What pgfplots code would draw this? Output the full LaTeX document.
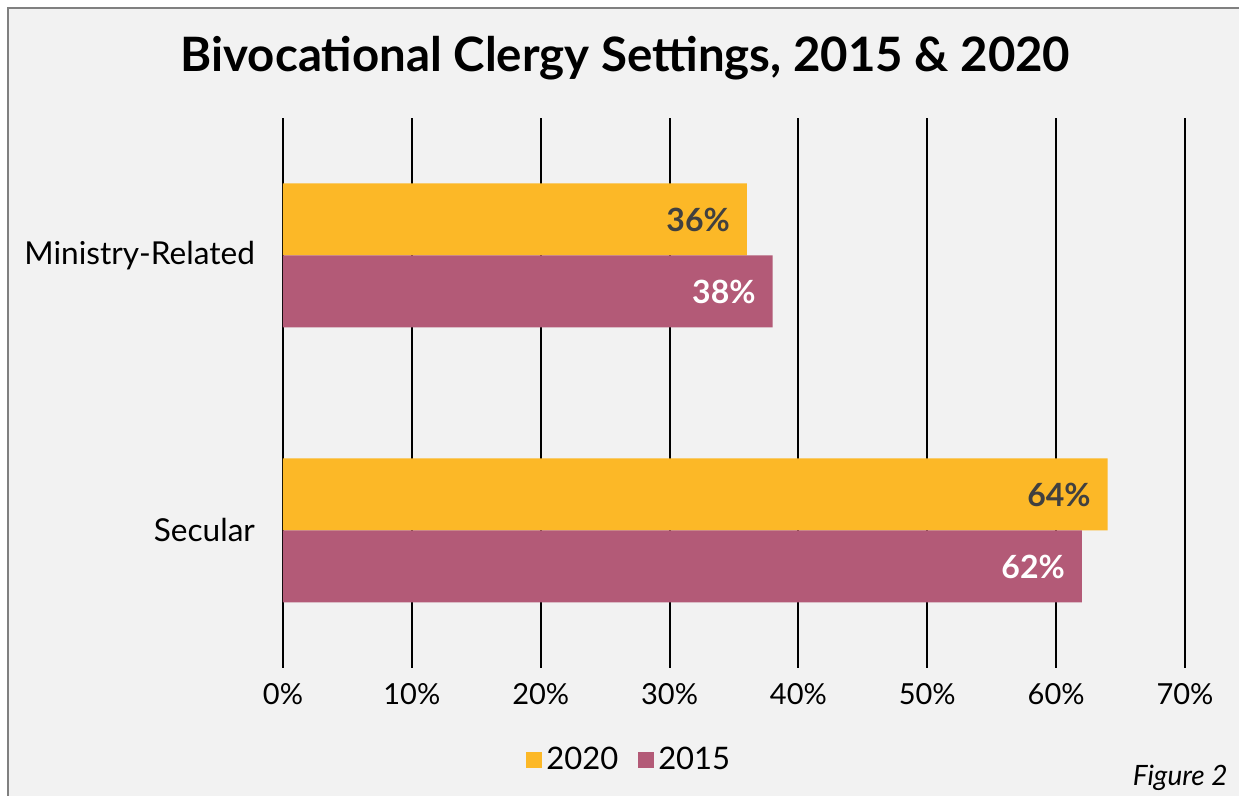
\documentclass[border=0pt]{standalone}
\usepackage{pgfplots}
\pgfplotsset{compat=1.18}
\usepackage{fontspec}
\setmainfont{Lato}
\definecolor{bggray}{HTML}{F2F2F2}
\definecolor{bordergray}{HTML}{808080}
\definecolor{cyellow}{HTML}{FCB827}
\definecolor{cmauve}{HTML}{B35A77}
\definecolor{darklabel}{HTML}{404040}
\begin{document}
\begin{tikzpicture}
\useasboundingbox (0,0) rectangle (619.5pt,398pt);
\fill[white] (0,0) rectangle (619.5pt,398pt);
\fill[bggray] (4pt,0) rectangle (619.5pt,394pt);
\draw[bordergray, line width=1pt] (4pt,0) -- (4pt,394pt) -- (619.5pt,394pt);
\node[anchor=base, font=\fontsize{23.7}{28}\selectfont\bfseries] at (312.75pt,362pt) {Bivocational Clergy Settings, 2015 \& 2020};
\begin{axis}[
  at={(141.5pt,64pt)}, anchor=south west,
  scale only axis, width=451pt, height=275pt,
  xmin=0, xmax=70, ymin=-0.5, ymax=1.5,
  xtick={0,10,...,70},
  xticklabel={\pgfmathprintnumber{\tick}\%},
  /pgf/number format/assume math mode=true,
  ytick={0,1}, yticklabels={Secular,Ministry-Related},
  axis line style={draw=none},
  major tick length=0pt,
  xmajorgrids, grid style={black, line width=1pt},
  xticklabel style={yshift=-4pt, font=\fontsize{14.5}{17}\selectfont},
  yticklabel style={xshift=-10.5pt, font=\fontsize{15.8}{18}\selectfont},
  point meta=x,
  nodes near coords={\pgfmathprintnumber{\pgfplotspointmeta}\%},
  nodes near coords style={anchor=east, font=\fontsize{16}{19}\selectfont\bfseries},
  legend style={at={(0.385,-0.167)}, anchor=center, draw=none, fill=none, legend columns=2,
    font=\fontsize{15.5}{18}\selectfont, /tikz/every even column/.append style={column sep=8pt}},
  legend image code/.code={\fill[#1] (0pt,-4pt) rectangle (8pt,4pt);},
]
\addplot[xbar, bar width=36pt, bar shift=18pt, fill=cyellow, draw=none,
  nodes near coords style={darklabel, xshift=-5pt, yshift=18pt}]
  coordinates {(36,1) (64,0)};
\addlegendentry{2020}
\addplot[xbar, bar width=36pt, bar shift=-18pt, fill=cmauve, draw=none,
  nodes near coords style={white, xshift=-5pt, yshift=-18pt}]
  coordinates {(38,1) (62,0)};
\addlegendentry{2015}
\end{axis}
\node[anchor=base east, inner sep=0pt, font=\fontsize{14}{16}\selectfont\itshape] at (614pt,5pt) {Figure 2};
\end{tikzpicture}
\end{document}
